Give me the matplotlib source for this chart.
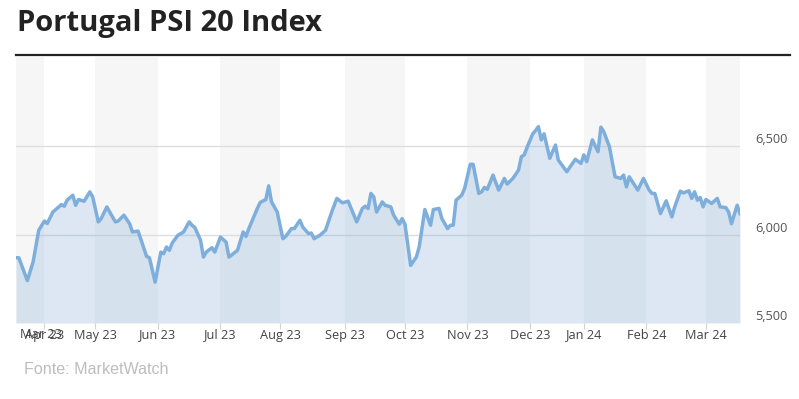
import matplotlib
matplotlib.use("Agg")
import matplotlib.pyplot as plt
import matplotlib.transforms as mtransforms

# trading session number (0 = 20 Mar 2023) and PSI 20 close
session = [0, 1, 4, 6, 8, 10, 11, 13, 16, 17, 18, 20, 21, 22, 24, 26, 27, 29, 30, 32,
           33, 35, 36, 38, 40, 41, 43, 46, 47, 49, 51, 52, 53, 54, 55, 57, 59, 61, 62, 63,
           65, 66, 67, 69, 70, 72, 74, 75, 78, 80, 81, 82, 85, 86, 88, 89, 90, 92, 94, 95,
           97, 98, 100, 101, 103, 104, 105, 107, 109, 111, 113, 115, 117, 120, 122, 123, 124, 125, 126, 127,
           129, 130, 132, 133, 135, 136, 137, 139, 141, 142, 144, 146, 147, 149, 150, 152, 153, 154, 155, 157,
           158, 160, 161, 163, 164, 165, 166, 168, 170, 172, 173, 175, 177, 178, 179, 180, 182, 183, 184, 185,
           186, 188, 190, 191, 194, 197, 199, 200, 201, 203, 205, 206, 207, 209, 211, 213, 214, 215, 216, 219,
           221, 223, 224, 225, 227, 229, 231, 232, 234, 235, 237, 238, 239, 240, 241, 242, 243, 245, 247, 248,
           250, 251, 252, 254, 255]
close = [5869, 5869, 5740, 5844, 6024, 6077, 6063, 6128, 6170, 6161, 6195, 6223, 6166, 6199, 6189, 6242, 6214, 6072, 6091, 6157,
         6128, 6072, 6077, 6110, 6062, 6015, 6020, 5877, 5869, 5731, 5901, 5892, 5930, 5911, 5952, 5996, 6015, 6072, 6053, 6040,
         5968, 5873, 5901, 5926, 5901, 5986, 5958, 5873, 5911, 6015, 5990, 6034, 6148, 6182, 6199, 6276, 6185, 6128, 5977, 5990,
         6034, 6034, 6081, 6043, 6006, 6009, 5977, 5996, 6024, 6119, 6205, 6180, 6189, 6072, 6148, 6161, 6148, 6233, 6214, 6128,
         6185, 6166, 6157, 6110, 6059, 6091, 6059, 5826, 5873, 5930, 6142, 6053, 6142, 6148, 6091, 6034, 6053, 6053, 6195, 6223,
         6261, 6398, 6398, 6233, 6242, 6267, 6256, 6337, 6252, 6318, 6286, 6318, 6365, 6441, 6451, 6494, 6570, 6589, 6611, 6536,
         6570, 6432, 6507, 6422, 6356, 6426, 6403, 6451, 6413, 6536, 6469, 6608, 6583, 6498, 6327, 6318, 6337, 6270, 6327, 6252,
         6318, 6252, 6233, 6233, 6119, 6191, 6100, 6157, 6246, 6236, 6248, 6205, 6242, 6195, 6210, 6157, 6199, 6176, 6205, 6157,
         6153, 6128, 6062, 6166, 6119]

# first session of each month
month_session = [10, 28, 50, 72, 93, 116, 137, 159, 181, 200, 222, 243]
month_labels = ["Apr 23", "May 23", "Jun 23", "Jul 23", "Aug 23", "Sep 23",
                "Oct 23", "Nov 23", "Dec 23", "Jan 24", "Feb 24", "Mar 24"]
y_ticks = [5500, 6000, 6500]
y_labels = ["5,500", "6,000", "6,500"]

line_color = "#7eaedb"

fig = plt.figure(figsize=(7.99, 3.99), dpi=100)
ax = fig.add_axes([16 / 799, 1 - 323 / 399, 724 / 799, 266 / 399])

x_min, x_max = session[0], session[-1]
ax.set_xlim(x_min, x_max)
ax.set_ylim(5500, 7005)

# alternating month bands
edges = [x_min] + month_session + [x_max]
for i in range(len(edges) - 1):
    if i % 2 == 0:
        ax.axvspan(edges[i], edges[i + 1], color="#f6f6f6", lw=0, zorder=0)

ax.fill_between(session, close, 5500, color="#78a6d4", alpha=0.26, lw=0, zorder=2)
ax.plot(session, close, color=line_color, lw=2.5, solid_joinstyle="round", zorder=3)

for s in ax.spines.values():
    s.set_visible(False)

ax.set_xticks(month_session)
ax.set_xticklabels(month_labels, fontsize=9.2, color="#444444", family="Open Sans")
ax.tick_params(axis="x", length=4, color="#d4d4d4", pad=0)

ax.set_yticks(y_ticks)
ax.set_yticklabels(y_labels, fontsize=9.2, color="#555555", family="Open Sans")
ax.yaxis.tick_right()
ax.tick_params(axis="y", length=0, pad=11)
offset = mtransforms.ScaledTranslation(0, 8 / 100, fig.dpi_scale_trans)
for lab in ax.get_yticklabels():
    lab.set_transform(lab.get_transform() + offset)

ax.grid(axis="y", color="#dddddd", lw=1, zorder=1)
ax.yaxis.get_gridlines()[0].set_visible(False)
ax.set_axisbelow(True)

# leftover March label squeezed at the left edge
ax.text(0.006, -0.017, "Mar 23", transform=ax.transAxes, ha="left", va="top",
        fontsize=9.2, color="#444444", family="Open Sans")

fig.add_artist(plt.Line2D([16 / 799, 790 / 799], [1 - 54.5 / 399] * 2,
                          color="#222222", lw=1.6))
fig.text(17 / 799, 1 - 31 / 399, "Portugal PSI 20 Index", fontsize=21,
         fontweight="bold", family="Open Sans", color="#222222", va="baseline")
fig.text(24 / 799, 1 - 369 / 399, "Fonte: MarketWatch", fontsize=11.6,
         family="Liberation Sans", color="#bdbdbd", va="center")

fig.savefig("out.png", dpi=100)
